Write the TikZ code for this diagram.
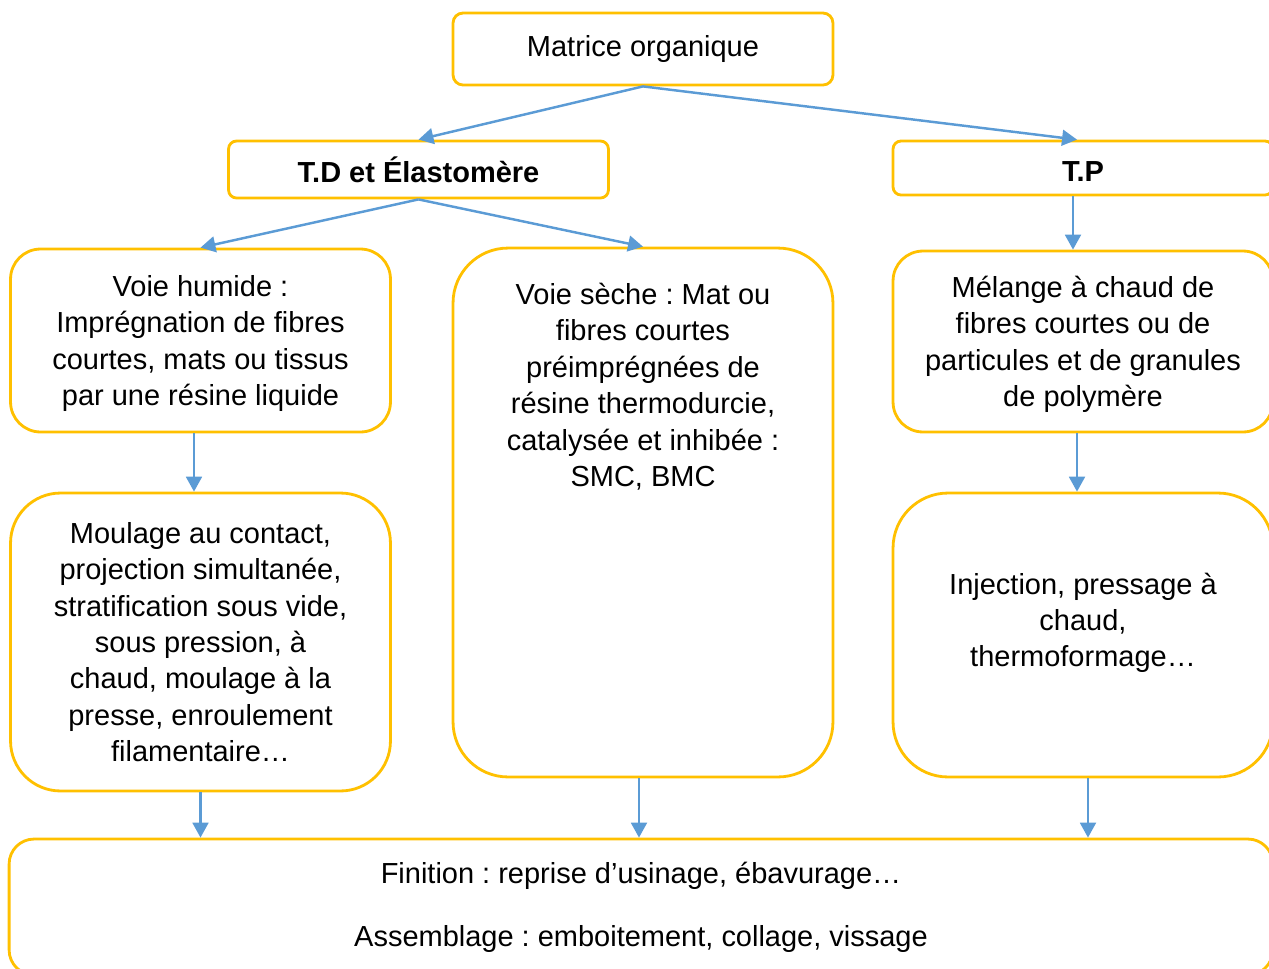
\documentclass[tikz,border=0pt]{standalone}
\usepackage{fontspec}
\setmainfont{Liberation Sans}
\usepackage{xcolor}
\usetikzlibrary{shapes,arrows.meta,positioning}

\definecolor{jaune}{HTML}{FFC000}
\definecolor{bleu}{HTML}{5B9BD5}
\frenchspacing

\begin{document}
\begin{tikzpicture}[x=0.02cm, y=-0.02cm,
    every node/.style={draw=jaune, line width=1.6pt, fill=white, align=center,
        font=\fontsize{16.5}{20.7}\selectfont, minimum width=7.6cm},
    titre/.style={font=\fontsize{16.5}{20.7}\selectfont\bfseries, text height=15pt},
    fleche/.style={-{Triangle[length=8.5pt,width=9pt]}, draw=bleu, line width=1.4pt}]

    \useasboundingbox (0,0) rectangle (1269,968);

    \node[rounded corners=0.2cm, minimum height=1.44cm] (matrice) at (643,49) {Matrice organique};
    \node[titre, rounded corners=0.16cm, minimum height=1.14cm] (td) at (418.5,169.5) {T.D et Élastomère};
    \node[titre, rounded corners=0.16cm, minimum height=1.08cm] (tp) at (1083,168) {T.P};

    \node[rounded corners=0.6cm, minimum height=3.66cm, text depth=0pt] (humide) at (200.5,340.5)
        {Voie humide :\\Imprégnation de fibres\\courtes, mats ou tissus\\par une résine liquide};
    \node[rounded corners=1.1cm, minimum height=10.58cm, inner sep=0pt] (seche) at (643,512.5)
        {\begin{minipage}[c][10.58cm][t]{7cm}\centering\vspace*{20pt}
        Voie sèche : Mat ou\\fibres courtes\\préimprégnées de\\résine thermodurcie,\\catalysée et inhibée :\\SMC, BMC
        \end{minipage}};
    \node[rounded corners=0.6cm, minimum height=3.62cm, text depth=-2pt] (melange) at (1083,341.5)
        {Mélange à chaud de\\fibres courtes ou de\\particules et de granules\\de polymère};

    \node[rounded corners=1cm, minimum height=5.96cm, text depth=-3pt] (moulage) at (200.5,642)
        {Moulage au contact,\\projection simultanée,\\stratification sous vide,\\sous pression, à\\chaud, moulage à la\\presse, enroulement\\filamentaire…};
    \node[rounded corners=1.1cm, minimum height=5.68cm, inner sep=0pt] (injection) at (1083,635)
        {\begin{minipage}[c][5.68cm][c]{7cm}\centering
        Injection, pressage à\\chaud,\\thermoformage…\\[0pt]\vspace*{14pt}
        \end{minipage}};

    \node[rounded corners=0.5cm, minimum width=25.28cm, minimum height=2.72cm] (finition) at (641,907)
        {Finition : reprise d’usinage, ébavurage…\\[15pt]Assemblage : emboitement, collage, vissage};

    % connecteurs
    \draw[fleche] (matrice.south) -- (td.north);
    \draw[fleche] (matrice.south) -- ([xshift=-0.12cm]tp.north);
    \draw[fleche] (td.south) -- (humide.north);
    \draw[fleche] (td.south) -- (seche.north);
    \draw[fleche] ([xshift=-0.2cm]tp.south) -- ([xshift=-0.2cm]melange.north);
    \draw[fleche] ([xshift=-0.13cm]humide.south) -- ([xshift=-0.13cm]moulage.north);
    \draw[fleche] ([xshift=-0.12cm]melange.south) -- ([xshift=-0.12cm]injection.north);
    \draw[fleche] (moulage.south) -- (moulage.south |- finition.north);
    \draw[fleche] ([xshift=-0.08cm]seche.south) -- ([xshift=-0.08cm]seche.south |- finition.north);
    \draw[fleche] ([xshift=0.1cm]injection.south) -- ([xshift=0.1cm]injection.south |- finition.north);

\end{tikzpicture}
\end{document}
